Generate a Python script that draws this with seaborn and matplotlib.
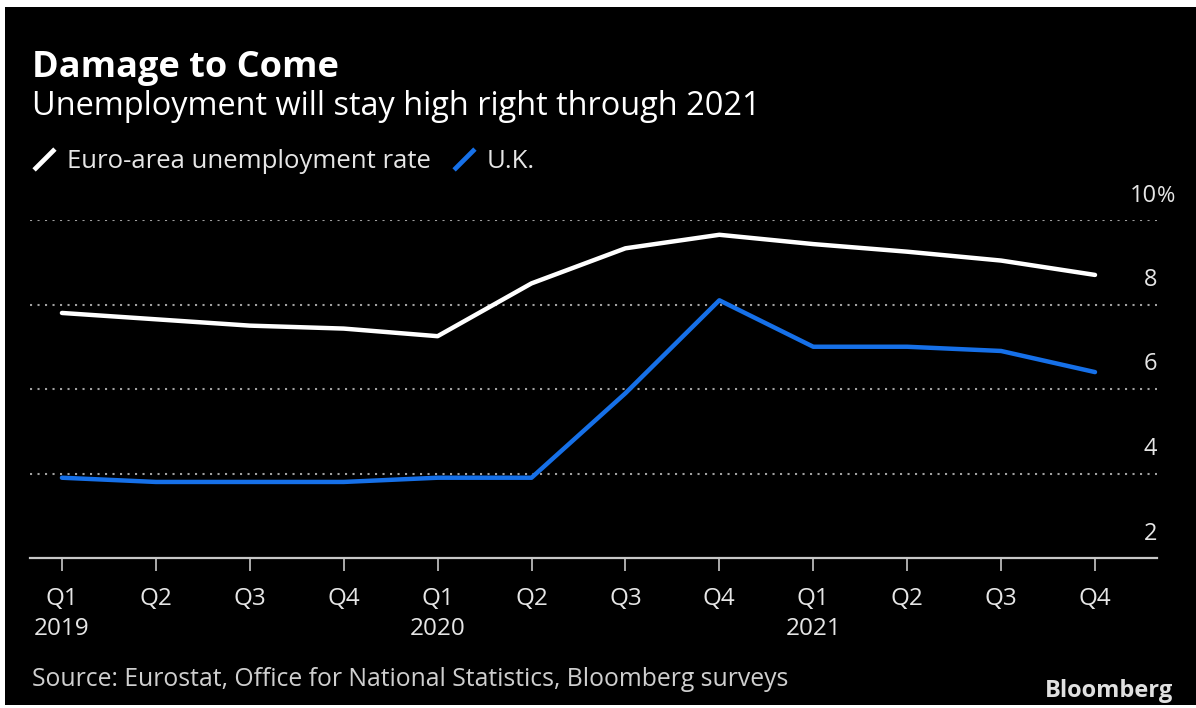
import numpy as np
import pandas as pd
import matplotlib as mpl
import matplotlib.pyplot as plt
from matplotlib.lines import Line2D
from matplotlib.patches import Rectangle
from matplotlib.path import Path
import seaborn as sns

# data
quarters = ['Q1', 'Q2', 'Q3', 'Q4', 'Q1', 'Q2', 'Q3', 'Q4', 'Q1', 'Q2', 'Q3', 'Q4']
years = ['2019', '', '', '', '2020', '', '', '', '2021', '', '', '']
euro_rate = [7.8, 7.65, 7.5, 7.43, 7.25, 8.5, 9.33, 9.65, 9.43, 9.25, 9.04, 8.7]
uk_rate = [3.9, 3.8, 3.8, 3.8, 3.9, 3.9, 5.9, 8.1, 7.0, 7.0, 6.9, 6.4]
series_names = ['Euro-area unemployment rate', 'U.K.']
y_ticks = [2, 4, 6, 8, 10]

color_bg = '#000000'
color_text = '#e6e6e6'
color_grid = '#a0a0a0'
color_euro = '#ffffff'
color_uk = '#1670e8'

sns.set_theme(style='dark')
plt.rcParams['font.family'] = ['Open Sans', 'DejaVu Sans']

df = pd.DataFrame({
    'period': list(range(len(quarters))) * 2,
    'series': [series_names[0]] * len(quarters) + [series_names[1]] * len(quarters),
    'rate': euro_rate + uk_rate,
})

fig = plt.figure(figsize=(11.96, 7.08), dpi=100, facecolor='white')
fig.add_artist(Rectangle((5 / 1196, 3 / 708), 1191 / 1196, 698 / 708,
                         transform=fig.transFigure, facecolor=color_bg,
                         edgecolor='none', zorder=0))

ax = fig.add_axes([30 / 1196, (708 - 558) / 708, 1127 / 1196, 338 / 708])
ax.set_facecolor('none')

sns.lineplot(data=df, x='period', y='rate', hue='series', ax=ax,
             palette=[color_euro, color_uk], linewidth=3.2,
             solid_capstyle='round', solid_joinstyle='round', legend=False)

ax.set_xlim(-0.34, 11.66)
ax.set_ylim(2, 10)

# dotted grid
for v in y_ticks[1:]:
    ax.axhline(v, color=color_grid, lw=1.5, dashes=(1, 2.6), zorder=0)

for s in ['top', 'right', 'left']:
    ax.spines[s].set_visible(False)
ax.spines['bottom'].set_color('#c8c8c8')
ax.spines['bottom'].set_linewidth(1.6)

ax.set_xticks(range(len(quarters)))
ax.set_xticklabels([q + ('\n' + y if y else '') for q, y in zip(quarters, years)],
                   fontsize=17.5, color=color_text, linespacing=1.35)
ax.tick_params(axis='x', direction='out', length=9, width=1.2,
               color='#c8c8c8', pad=12, bottom=True)
ax.set_yticks([])
ax.set_xlabel('')
ax.set_ylabel('')

for v in y_ticks:
    ax.annotate(str(v), xy=(1, v), xycoords=('axes fraction', 'data'),
                xytext=(0, 9), textcoords='offset points', ha='right',
                va='bottom', fontsize=17, color=color_text)
ax.annotate('%', xy=(1, y_ticks[-1]), xycoords=('axes fraction', 'data'),
            xytext=(0, 9), textcoords='offset points', ha='left',
            va='bottom', fontsize=16, color=color_text)

# titles
fig.text(32 / 1196, (708 - 77) / 708, 'Damage to Come', fontsize=26,
         fontweight='bold', color='white', va='baseline')
fig.text(32 / 1196, (708 - 115) / 708, 'Unemployment will stay high right through 2021',
         fontsize=23.4, color='white', va='baseline')

# legend
slash = Path([(-1, -1), (1, 1)], [Path.MOVETO, Path.LINETO])
handles = [Line2D([], [], marker=slash, linestyle='none', markersize=15,
                  markeredgewidth=3.4, color=c)
           for c in [color_euro, color_uk]]
fig.legend(handles, series_names, loc='center left',
           bbox_to_anchor=(31 / 1196, (708 - 161) / 708), ncol=2, frameon=False,
           borderpad=0, borderaxespad=0,
           handlelength=1.0, handletextpad=0.4, columnspacing=0.78,
           prop={'size': 18.5}, labelcolor=color_text)

# footer
fig.text(32 / 1196, (708 - 686) / 708,
         'Source: Eurostat, Office for National Statistics, Bloomberg surveys',
         fontsize=17.8, color='#cfcfcf', va='baseline')
fig.text(1173 / 1196, (708 - 697) / 708, 'Bloomberg',
         fontsize=17, fontweight='bold', color='#e0e0e0', ha='right', va='baseline')

fig.savefig('out.png', dpi=100, facecolor=fig.get_facecolor())
